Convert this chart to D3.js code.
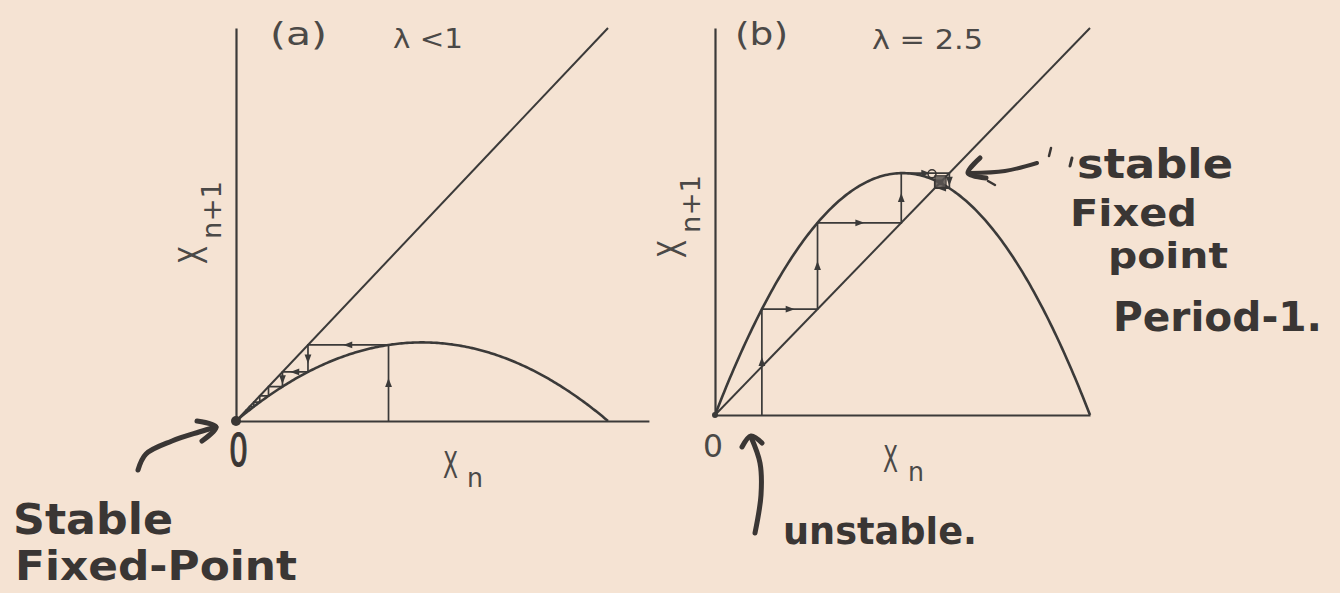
<!DOCTYPE html>
<html><head><meta charset="utf-8">
<script src="https://cdn.jsdelivr.net/npm/d3@7"></script>
<style>html,body{margin:0;padding:0;background:#f5e3d3;}svg{display:block}</style>
</head><body>
<svg id="chart" width="1340" height="593"></svg>
<script>
// Cobweb diagrams of the logistic map x[n+1] = λ·x[n]·(1 − x[n])
const panelTags = ["(a)", "(b)"];
const lambdaLabels = ["λ <1", "λ = 2.5"];
const lambdas = [0.8, 2.5];
// successive iterates x0, x1, x2, ... traced by each cobweb
const iteratesA = [0.41, 0.1935, 0.1249, 0.0874, 0.0638, 0.0478, 0.0364, 0.0281, 0.0218];
const iteratesB = [0.125, 0.2734, 0.4967, 0.6250, 0.5860, 0.6065, 0.5966, 0.6017, 0.5992];
const axisExtents = [1.11, 1.0];
const originLabel = "0";
const xLabel = ["X", "n"];
const yLabel = ["X", "n+1"];
const notesA = ["Stable", "Fixed-Point"];
const notesB = ["stable", "Fixed", "point", "Period-1."];
const noteUnstable = "unstable.";

const svg = d3.select("#chart");
const INK = "#3b3a39", PRINT = "#4b4947", PEN = "#3a3634";
const PRINT_FONT = "'DejaVu Sans', sans-serif";
const PEN_FONT = "'DejaVu Sans', sans-serif";

svg.append("rect").attr("width", 1340).attr("height", 593).attr("fill", "#f5e3d3");

const frames = [
  { left: 236, right: 608, bottom: 421, top: 28, iter: iteratesA,
    tag: [270, 45, 57], lam: [393, 48, 70], xl: [443, 467], zero: [229, 466, 19, 44] },
  { left: 715, right: 1090, bottom: 415, top: 28, iter: iteratesB,
    tag: [735, 45, 53], lam: [872, 49, 111], xl: [883, 908], zero: [703, 457, 20, 32] }
];

function condensed(g, str, x, y, len, size, opts = {}) {
  return g.append("text").attr("x", x).attr("y", y)
    .attr("textLength", len).attr("lengthAdjust", "spacingAndGlyphs")
    .attr("font-family", opts.font || PRINT_FONT)
    .attr("font-weight", opts.weight || "normal")
    .attr("font-size", size).attr("fill", opts.fill || PRINT)
    .attr("stroke", opts.stroke || "none").attr("stroke-width", opts.sw || 0)
    .text(str);
}

frames.forEach((f, i) => {
  const lam = lambdas[i];
  const g = svg.append("g");
  const x = d3.scaleLinear().domain([0, 1]).range([f.left, f.right]);
  const y = d3.scaleLinear().domain([0, 1]).range([f.bottom, f.top]);
  const xAxisScale = d3.scaleLinear().domain([0, axisExtents[i]])
    .range([f.left, x(axisExtents[i])]);

  // bare axes: domain lines only
  const ax = g.append("g").attr("transform", `translate(0,${f.bottom})`)
    .call(d3.axisBottom(xAxisScale).tickValues([]).tickSizeOuter(0));
  const ay = g.append("g").attr("transform", `translate(${f.left},0)`)
    .call(d3.axisLeft(y).tickValues([]).tickSizeOuter(0));
  [ax, ay].forEach(a => a.select(".domain").attr("stroke", INK).attr("stroke-width", 2.2));

  const line = d3.line().x(d => x(d[0])).y(d => y(d[1]));

  // diagonal x[n+1] = x[n]
  g.append("path").attr("d", line([[0, 0], [1, 1]]))
    .attr("fill", "none").attr("stroke", INK).attr("stroke-width", 2);

  // the map itself
  const curve = d3.range(0, 1.0001, 0.005).map(v => [v, lam * v * (1 - v)]);
  g.append("path").attr("d", line(curve))
    .attr("fill", "none").attr("stroke", INK).attr("stroke-width", 2.6);

  // cobweb: up/down to the curve, across to the diagonal
  const pts = [[f.iter[0], 0]];
  for (let k = 0; k < f.iter.length - 1; k++) {
    pts.push([f.iter[k], f.iter[k + 1]]);
    pts.push([f.iter[k + 1], f.iter[k + 1]]);
  }
  g.append("path").attr("d", line(pts))
    .attr("fill", "none").attr("stroke", INK).attr("stroke-width", 1.7);

  // direction arrows at segment midpoints
  for (let k = 0; k < pts.length - 1; k++) {
    const p = [x(pts[k][0]), y(pts[k][1])], q = [x(pts[k + 1][0]), y(pts[k + 1][1])];
    const len = Math.hypot(q[0] - p[0], q[1] - p[1]);
    if (len < 14) continue;
    const ang = Math.atan2(q[1] - p[1], q[0] - p[0]) * 180 / Math.PI;
    g.append("path").attr("d", "M5,0L-4,-3.4L-4,3.4Z")
      .attr("transform", `translate(${(p[0] + q[0]) / 2},${(p[1] + q[1]) / 2}) rotate(${ang})`)
      .attr("fill", INK);
  }

  // printed labels
  condensed(g, panelTags[i], f.tag[0], f.tag[1], f.tag[2], 32);
  condensed(g, lambdaLabels[i], f.lam[0], f.lam[1], f.lam[2], 27);
  condensed(g, xLabel[0], f.xl[0], f.bottom + 57, 15, 37);
  condensed(g, xLabel[1], f.xl[1], f.bottom + 66, 16, 27);
  const yl = g.append("g").attr("transform", `translate(${f.left - 29},${f.bottom - 157}) rotate(-90)`);
  condensed(yl, yLabel[0], 0, 0, 18, 39);
  condensed(yl, yLabel[1], 25, 14, 58, 27);
  if (i === 0) {
    condensed(g, originLabel, f.zero[0], f.zero[1], f.zero[2], f.zero[3],
      { fill: PEN, stroke: PEN, sw: 1.2 });
    g.append("circle").attr("cx", x(0)).attr("cy", y(0)).attr("r", 5).attr("fill", PEN);
  } else {
    condensed(g, originLabel, f.zero[0], f.zero[1], f.zero[2], f.zero[3]);
    g.append("circle").attr("cx", x(0)).attr("cy", y(0)).attr("r", 3).attr("fill", INK);
    // inked box around the stable fixed point x* = 1 − 1/λ
    const fp = 1 - 1 / lam;
    g.append("rect").attr("x", x(fp) - 5).attr("y", y(fp) - 7).attr("width", 11).attr("height", 12)
      .attr("fill", "#5a5552").attr("stroke", PEN).attr("stroke-width", 1.5).attr("opacity", 0.85);
    g.append("circle").attr("cx", x(fp) - 8).attr("cy", y(fp) - 9).attr("r", 4)
      .attr("fill", "none").attr("stroke", PEN).attr("stroke-width", 1.6);
  }
});

// hand-written notes
const pen = svg.append("g");
const penOpts = { font: PEN_FONT, weight: "bold", fill: PEN };
condensed(pen, notesA[0], 13, 534, 160, 42, penOpts);
condensed(pen, notesA[1], 15, 580, 282, 40, penOpts);
condensed(pen, noteUnstable, 783, 544, 194, 38, penOpts);
condensed(pen, notesB[0], 1077, 178, 156, 40, penOpts);
condensed(pen, notesB[1], 1070, 226, 127, 38, penOpts);
condensed(pen, notesB[2], 1108, 268, 120, 36, penOpts);
condensed(pen, notesB[3], 1113, 331, 209, 40, penOpts);

const stroke = d3.line().curve(d3.curveCatmullRom.alpha(0.5));
function penStroke(points, w) {
  pen.append("path").attr("d", stroke(points)).attr("fill", "none")
    .attr("stroke", PEN).attr("stroke-width", w).attr("stroke-linecap", "round")
    .attr("stroke-linejoin", "round");
}
// arrow to the stable origin in (a)
penStroke([[138, 470], [146, 454], [172, 441], [199, 432], [216, 427]], 5);
penStroke([[197, 421], [216, 427], [202, 441]], 5);
// arrow to the unstable origin in (b)
penStroke([[755, 533], [761, 495], [760, 463], [751, 437]], 5);
penStroke([[742, 447], [751, 436], [762, 443]], 5);
// arrow to the stable fixed point in (b)
penStroke([[1037, 163], [1005, 171], [970, 173]], 4);
penStroke([[980, 158], [968, 173], [986, 178]], 5);
// stray pen ticks
penStroke([[1072, 158], [1070, 166]], 3);
penStroke([[988, 181], [995, 185]], 2.5);
penStroke([[1051, 148], [1049, 156]], 2.5);
</script>
</body></html>
